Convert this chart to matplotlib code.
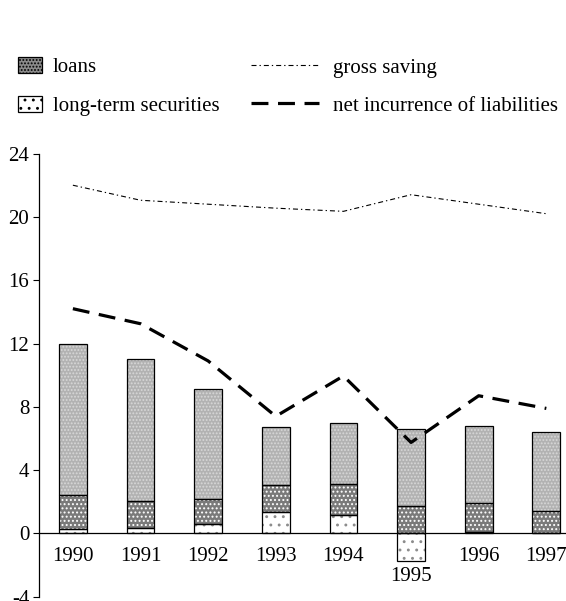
import matplotlib.pyplot as plt
import numpy as np
from matplotlib.patches import Patch
from matplotlib.lines import Line2D

plt.rcParams['font.family'] = ['Liberation Serif', 'DejaVu Serif']
plt.rcParams['axes.unicode_minus'] = False
plt.rcParams['hatch.linewidth'] = 0.9

years = ['1990', '1991', '1992', '1993', '1994', '1995', '1996', '1997']
securities = [0.27, 0.32, 0.59, 1.35, 1.16, -1.77, 0.08, 0.05]
loans = [2.15, 1.76, 1.60, 1.70, 1.94, 1.71, 1.85, 1.40]
other = [9.58, 8.97, 6.93, 3.65, 3.85, 4.90, 4.83, 4.93]
gross_saving = [22.0, 21.05, 20.8, 20.55, 20.35, 21.4, 20.8, 20.2]
net_liabilities = [14.2, 13.25, 10.9, 7.4, 9.95, 5.75, 8.7, 7.9]

x = np.arange(len(years))
sec = np.array(securities)
loan_base = np.clip(sec, 0, None)
other_base = loan_base + np.array(loans)

fig = plt.figure(figsize=(5.66, 6.01), dpi=100)
ax = fig.add_axes([0.069, 0.007, 0.956, 0.7375])

w = 0.41
# hatched fills first, then black outlines on top
def seg(vals, base, face, hatch, hcol):
    ax.bar(x, vals, w, bottom=base, color=face, hatch=hatch, edgecolor=hcol, lw=0, zorder=2)
    ax.bar(x, vals, w, bottom=base, fill=False, edgecolor='black', lw=0.9, zorder=3)

seg(sec, 0, 'white', '..', '#8c8c8c')
seg(loans, loan_base, '#7a7a7a', '....', 'white')
seg(other, other_base, '#b2b2b2', '.....', '#d8d8d8')

ax.plot(x, gross_saving, color='black', lw=0.8, dashes=(4.5, 2.7, 1.2, 2.7), zorder=4)
ax.plot(x, net_liabilities, color='black', lw=2.3, dashes=(5.3, 3.0), zorder=4)

ax.set_xlim(-0.5, 7.5)
ax.set_ylim(-4, 24)
ax.set_yticks(range(-4, 25, 4))
ax.set_xticks([])
ax.tick_params(axis='y', length=4, width=0.8, labelsize=15, pad=3)
ax.spines['bottom'].set_position(('data', 0))
ax.spines['bottom'].set_zorder(5)
ax.spines['right'].set_visible(False)
ax.spines['top'].set_visible(False)
for s in ('left', 'bottom'):
    ax.spines[s].set_linewidth(0.9)

for i, yr in enumerate(years):
    yl = -2.7 if sec[i] < 0 else -1.43
    ax.text(i, yl, yr, ha='center', va='center', fontsize=15)

# legend: patches on the left, lines on the right
patch_handles = [
    Patch(facecolor='#8a8a8a', hatch='.....', edgecolor='white', lw=0),
    Patch(facecolor='white', hatch='..', edgecolor='#8c8c8c', lw=0),
]
leg1 = fig.legend(patch_handles, ['loans', 'long-term securities'], loc='upper left',
                  bbox_to_anchor=(18 / 566, 1 - 57 / 601), frameon=False, fontsize=15,
                  handlelength=1.15, handleheight=0.82, handletextpad=0.53,
                  labelspacing=0.88, borderpad=0, borderaxespad=0)
for p in leg1.get_patches():
    p.set_edgecolor('black')
    p.set_linewidth(0.9)
line_handles = [
    Line2D([], [], color='black', lw=0.8, dashes=(4.5, 2.7, 1.2, 2.7)),
    Line2D([], [], color='black', lw=2.3, dashes=(5.3, 3.0)),
]
fig.legend(line_handles, ['gross saving', 'net incurrence of liabilities'], loc='upper left',
           bbox_to_anchor=(251 / 566, 1 - 58 / 601), frameon=False, fontsize=15,
           handlelength=3.27, handletextpad=0.67, labelspacing=0.88,
           borderpad=0, borderaxespad=0)

fig.savefig('out.png', dpi=100)
